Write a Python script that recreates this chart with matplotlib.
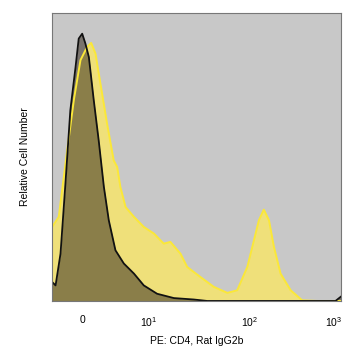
import numpy as np
import matplotlib
matplotlib.use("Agg")
import matplotlib.pyplot as plt

# ---- data (display channel 0..1000, relative count 0..100) ----
pe_channel = [0, 23, 52, 75, 98, 121, 135, 150, 167, 190, 213, 225, 236, 254, 283,
              317, 352, 386, 409, 444, 467, 513, 559, 606, 640, 675, 698, 715, 732,
              750, 767, 790, 825, 865, 917, 1000]
pe_count = [25.7, 29.2, 52.3, 69.7, 83.6, 88.2, 89.6, 85.9, 75.5, 61.6, 48.8, 46.5,
            39.6, 32.6, 29.2, 25.7, 23.4, 19.9, 20.5, 16.4, 11.8, 8.3, 4.9, 2.8, 3.7,
            11.8, 21.1, 28.0, 31.7, 28.0, 18.8, 9.5, 3.7, 0.2, 0.0, 0.0]

iso_channel = [0, 12, 29, 46, 63, 81, 92, 104, 115, 127, 144, 161, 179, 196, 219,
               248, 283, 317, 363, 421, 490, 536, 980, 1000]
iso_count = [6.6, 5.4, 16.4, 40.7, 66.2, 81.2, 91.1, 92.8, 89.4, 84.7, 69.7, 55.8,
             39.6, 28.0, 17.6, 13.0, 9.5, 5.4, 2.5, 1.0, 0.5, 0.0, 0.0, 1.6]

tick_pos = [105, 334, 684, 972]
tick_labels = ["0", "$10^1$", "$10^2$", "$10^3$"]

# ---- plot ----
plt.rcParams['font.family'] = ['Liberation Sans', 'DejaVu Sans']
plt.rcParams['mathtext.fontset'] = 'custom'
plt.rcParams['mathtext.rm'] = 'Liberation Sans'

fig = plt.figure(figsize=(3.57, 3.60), dpi=100)
ax = fig.add_axes([0.146, 0.164, 0.81, 0.80])
ax.set_facecolor('#c8c8c8')

ax.fill_between(pe_channel, pe_count, color='#efe07a', lw=0)
ax.plot(pe_channel, pe_count, color='#fbe838', lw=1.4)
ax.fill_between(iso_channel, iso_count, color='#382e22', alpha=0.55, lw=0)
ax.plot(iso_channel, iso_count, color='#111111', lw=1.3)

ax.set_xlim(0, 1000)
ax.set_ylim(0, 100)
ax.set_xticks(tick_pos)
ax.set_xticklabels(tick_labels, fontsize=7.5)
ax.set_yticks([])
ax.tick_params(axis='x', length=0, pad=10)
for s in ax.spines.values():
    s.set_color('#777777')
    s.set_linewidth(0.8)

ax.set_xlabel("PE: CD4, Rat IgG2b", fontsize=7.5, labelpad=5)
ax.set_ylabel("Relative Cell Number", fontsize=7.5, labelpad=16)

fig.savefig("out.png", dpi=100)
